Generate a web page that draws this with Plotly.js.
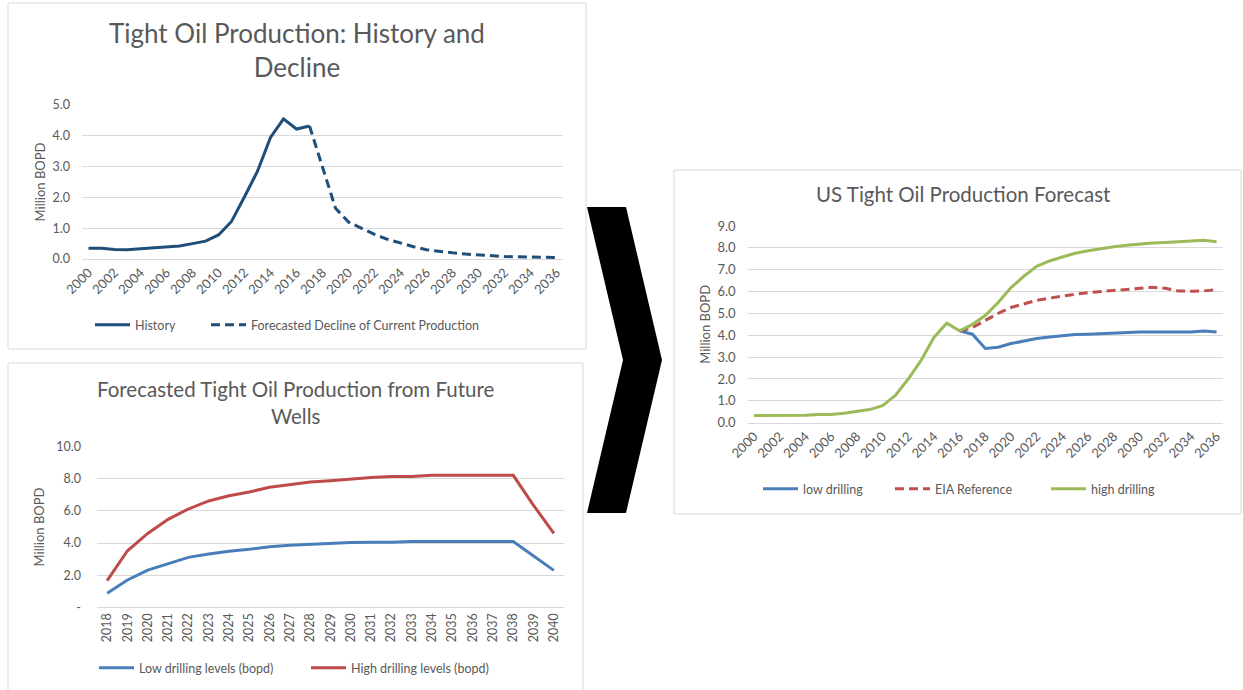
<!DOCTYPE html>
<html><head><meta charset="utf-8">
<script src="https://cdn.plot.ly/plotly-3.0.1.min.js"></script>
<style>html,body{margin:0;padding:0;background:#fff;} #chart{width:1243px;height:690px;}</style>
</head><body><div id="chart"></div>
<script>
// ---------- Data ----------
// Chart 1: Tight Oil Production: History and Decline
const historyYears = [2000,2001,2002,2003,2004,2005,2006,2007,2008,2009,2010,2011,2012,2013,2014,2015,2016,2017];
const historyVals  = [0.35,0.35,0.31,0.30,0.33,0.36,0.38,0.42,0.50,0.58,0.78,1.22,2.02,2.85,3.95,4.55,4.22,4.32];
const declineYears = [2017,2018,2019,2020,2021,2022,2023,2024,2025,2026,2027,2028,2029,2030,2031,2032,2033,2034,2035,2036];
const declineVals  = [4.32,3.00,1.65,1.20,1.00,0.80,0.64,0.51,0.40,0.30,0.24,0.20,0.16,0.13,0.10,0.08,0.07,0.06,0.05,0.05];
const p1TickYears  = [2000,2002,2004,2006,2008,2010,2012,2014,2016,2018,2020,2022,2024,2026,2028,2030,2032,2034,2036];
const p1YTicks     = [0,1,2,3,4,5];
const p1YText      = ['0.0','1.0','2.0','3.0','4.0','5.0'];

// Chart 2: Forecasted Tight Oil Production from Future Wells
const wellYears = [2018,2019,2020,2021,2022,2023,2024,2025,2026,2027,2028,2029,2030,2031,2032,2033,2034,2035,2036,2037,2038,2039,2040];
const lowLevels = [0.87,1.70,2.32,2.74,3.11,3.32,3.49,3.61,3.77,3.86,3.92,3.97,4.03,4.05,4.05,4.10,4.10,4.10,4.10,4.10,4.10,3.20,2.30];
const highLevels= [1.66,3.52,4.60,5.48,6.12,6.62,6.95,7.18,7.47,7.65,7.80,7.88,8.00,8.08,8.15,8.15,8.22,8.22,8.22,8.22,8.22,6.35,4.60];
const p2YTicks  = [0,2,4,6,8,10];
const p2YText   = ['-','2.0','4.0','6.0','8.0','10.0'];

// Chart 3: US Tight Oil Production Forecast
const fcYears   = [2000,2001,2002,2003,2004,2005,2006,2007,2008,2009,2010,2011,2012,2013,2014,2015,2016,2017,2018,2019,2020,2021,2022,2023,2024,2025,2026,2027,2028,2029,2030,2031,2032,2033,2034,2035,2036];
const highDrill = [0.33,0.33,0.33,0.33,0.34,0.37,0.38,0.43,0.50,0.60,0.78,1.25,2.00,2.85,3.90,4.55,4.20,4.50,4.90,5.50,6.18,6.70,7.15,7.40,7.58,7.75,7.87,7.97,8.05,8.12,8.18,8.22,8.25,8.28,8.30,8.35,8.28];
const scenYears = [2016,2017,2018,2019,2020,2021,2022,2023,2024,2025,2026,2027,2028,2029,2030,2031,2032,2033,2034,2035,2036];
const lowDrill  = [4.20,4.05,3.40,3.45,3.62,3.75,3.85,3.92,3.98,4.03,4.05,4.08,4.10,4.13,4.15,4.15,4.15,4.15,4.15,4.20,4.15];
const eiaRef    = [4.20,4.35,4.68,5.00,5.27,5.45,5.60,5.70,5.80,5.88,5.95,6.00,6.05,6.10,6.18,6.20,6.15,6.03,6.02,6.03,6.08];
const p3YTicks  = [0,1,2,3,4,5,6,7,8,9];
const p3YText   = ['0.0','1.0','2.0','3.0','4.0','5.0','6.0','7.0','8.0','9.0'];

// ---------- Layout helpers ----------
const W = 1243, H = 690;
const px = x => x / W;
const py = y => 1 - y / H;
const FONT = 'Lato, "Open Sans", sans-serif';
const GREY = '#595959';
const GRID = '#D9D9D9';

const traces = [
  {x: historyYears, y: historyVals, xaxis:'x', yaxis:'y', type:'scatter', mode:'lines', name:'History',
   line:{color:'#1F4E79', width:3}, legend:'legend', showlegend:true},
  {x: declineYears, y: declineVals, xaxis:'x', yaxis:'y', type:'scatter', mode:'lines', name:'Forecasted Decline of Current Production',
   line:{color:'#1F4E79', width:3, dash:'9px,5px'}, legend:'legend2', showlegend:true},
  {x: wellYears, y: lowLevels, xaxis:'x2', yaxis:'y2', type:'scatter', mode:'lines', name:'Low drilling levels (bopd)',
   line:{color:'#4A7EBB', width:3}, legend:'legend3', showlegend:true},
  {x: wellYears, y: highLevels, xaxis:'x2', yaxis:'y2', type:'scatter', mode:'lines', name:'High drilling levels (bopd)',
   line:{color:'#BE4B48', width:3}, legend:'legend4', showlegend:true},
  {x: scenYears, y: lowDrill, xaxis:'x3', yaxis:'y3', type:'scatter', mode:'lines', name:'low drilling',
   line:{color:'#4A7EBB', width:3}, legend:'legend5', showlegend:true},
  {x: scenYears, y: eiaRef, xaxis:'x3', yaxis:'y3', type:'scatter', mode:'lines', name:'EIA Reference',
   line:{color:'#C0504D', width:3, dash:'9px,5px'}, legend:'legend6', showlegend:true},
  {x: fcYears, y: highDrill, xaxis:'x3', yaxis:'y3', type:'scatter', mode:'lines', name:'high drilling',
   line:{color:'#9BBB59', width:3}, legend:'legend7', showlegend:true}
];

const axTitle = (t, standoff) => ({text: t, standoff: standoff, font: {family: FONT, size: 13, color: GREY}});

function xAx(domain, range, tickvals, angle, fs){
  return {domain: domain, range: range, tickvals: tickvals, ticktext: tickvals.map(String),
    tickangle: angle, showgrid: false, zeroline: false, showline: true, linecolor: GRID, linewidth: 1,
    ticks: '', tickfont: {family: FONT, size: fs, color: GREY}, fixedrange: true};
}
function yAx(domain, range, tickvals, ticktext, anchor, fs, labStand, titleStand){
  return {domain: domain, range: range, tickvals: tickvals, ticktext: ticktext, anchor: anchor,
    showgrid: true, gridcolor: GRID, gridwidth: 1, zeroline: false, showline: false,
    ticks: '', tickfont: {family: FONT, size: fs, color: GREY}, ticklabelstandoff: labStand, fixedrange: true,
    title: axTitle('Million BOPD', titleStand)};
}

const chevron = 'M' + px(587) + ',' + py(207) + ' L' + px(626) + ',' + py(207) + ' L' + px(662) + ',' + py(360) +
  ' L' + px(626) + ',' + py(513) + ' L' + px(587) + ',' + py(513) + ' L' + px(623) + ',' + py(360) + ' Z';

function leg(xs, ys){
  return {x: px(xs - 7), y: py(ys), orientation: 'h', xanchor: 'left', yanchor: 'middle', bgcolor: 'rgba(0,0,0,0)',
    itemwidth: 35, font: {family: FONT, size: 12.5, color: GREY}, itemclick: false, itemdoubleclick: false};
}

const layout = {
  width: W, height: H, margin: {l:0, r:0, t:0, b:0}, paper_bgcolor: '#FFFFFF', plot_bgcolor: 'rgba(0,0,0,0)',
  font: {family: FONT, color: GREY},
  showlegend: true,
  xaxis:  Object.assign(xAx([px(82), px(563)], [1999.5, 2036.5], p1TickYears, -45, 13), {anchor: 'y'}),
  yaxis:  yAx([py(259), py(105)], [0, 5], p1YTicks, p1YText, 'x', 12.5, 11, 3),
  xaxis2: Object.assign(xAx([px(97), px(564)], [2017.5, 2040.5], wellYears, -90, 12.5), {anchor: 'y2'}),
  yaxis2: yAx([py(607.3), py(446.7)], [0, 10], p2YTicks, p2YText, 'x2', 12.5, 15, 8),
  xaxis3: Object.assign(xAx([px(747.6), px(1223)], [1999.5, 2036.5], p1TickYears, -45, 13), {anchor: 'y3'}),
  yaxis3: yAx([py(422.7), py(226)], [0, 9], p3YTicks, p3YText, 'x3', 13, 11, 3),
  legend:  leg(97, 325),
  legend2: leg(213, 325),
  legend3: leg(101, 668),
  legend4: leg(313, 668),
  legend5: leg(765, 489),
  legend6: leg(897, 489),
  legend7: leg(1053, 489),
  shapes: [
    {type:'rect', xref:'paper', yref:'paper', x0:px(8), x1:px(586), y0:py(349), y1:py(3), line:{color:GRID, width:1}, fillcolor:'#FFFFFF', layer:'below'},
    {type:'rect', xref:'paper', yref:'paper', x0:px(8), x1:px(583), y0:py(700), y1:py(363), line:{color:GRID, width:1}, fillcolor:'#FFFFFF', layer:'below'},
    {type:'rect', xref:'paper', yref:'paper', x0:px(674), x1:px(1241), y0:py(514), y1:py(170), line:{color:GRID, width:1}, fillcolor:'#FFFFFF', layer:'below'},
    {type:'path', xref:'paper', yref:'paper', path: chevron, fillcolor:'#000000', line:{color:'#000000', width:0}}
  ],
  annotations: [
    {text:'Tight Oil Production: History and<br>Decline', xref:'paper', yref:'paper', x:px(297), y:py(50),
     xanchor:'center', yanchor:'middle', showarrow:false, font:{family:FONT, size:26, color:GREY}},
    {text:'Forecasted Tight Oil Production from Future<br>Wells', xref:'paper', yref:'paper', x:px(295), y:py(402),
     xanchor:'center', yanchor:'middle', showarrow:false, font:{family:FONT, size:20.5, color:GREY}},
    {text:'US Tight Oil Production Forecast', xref:'paper', yref:'paper', x:px(963), y:py(194),
     xanchor:'center', yanchor:'middle', showarrow:false, font:{family:FONT, size:20.5, color:GREY}}
  ]
};

Plotly.newPlot('chart', traces, layout, {displayModeBar: false, staticPlot: true});
</script>
</body></html>
